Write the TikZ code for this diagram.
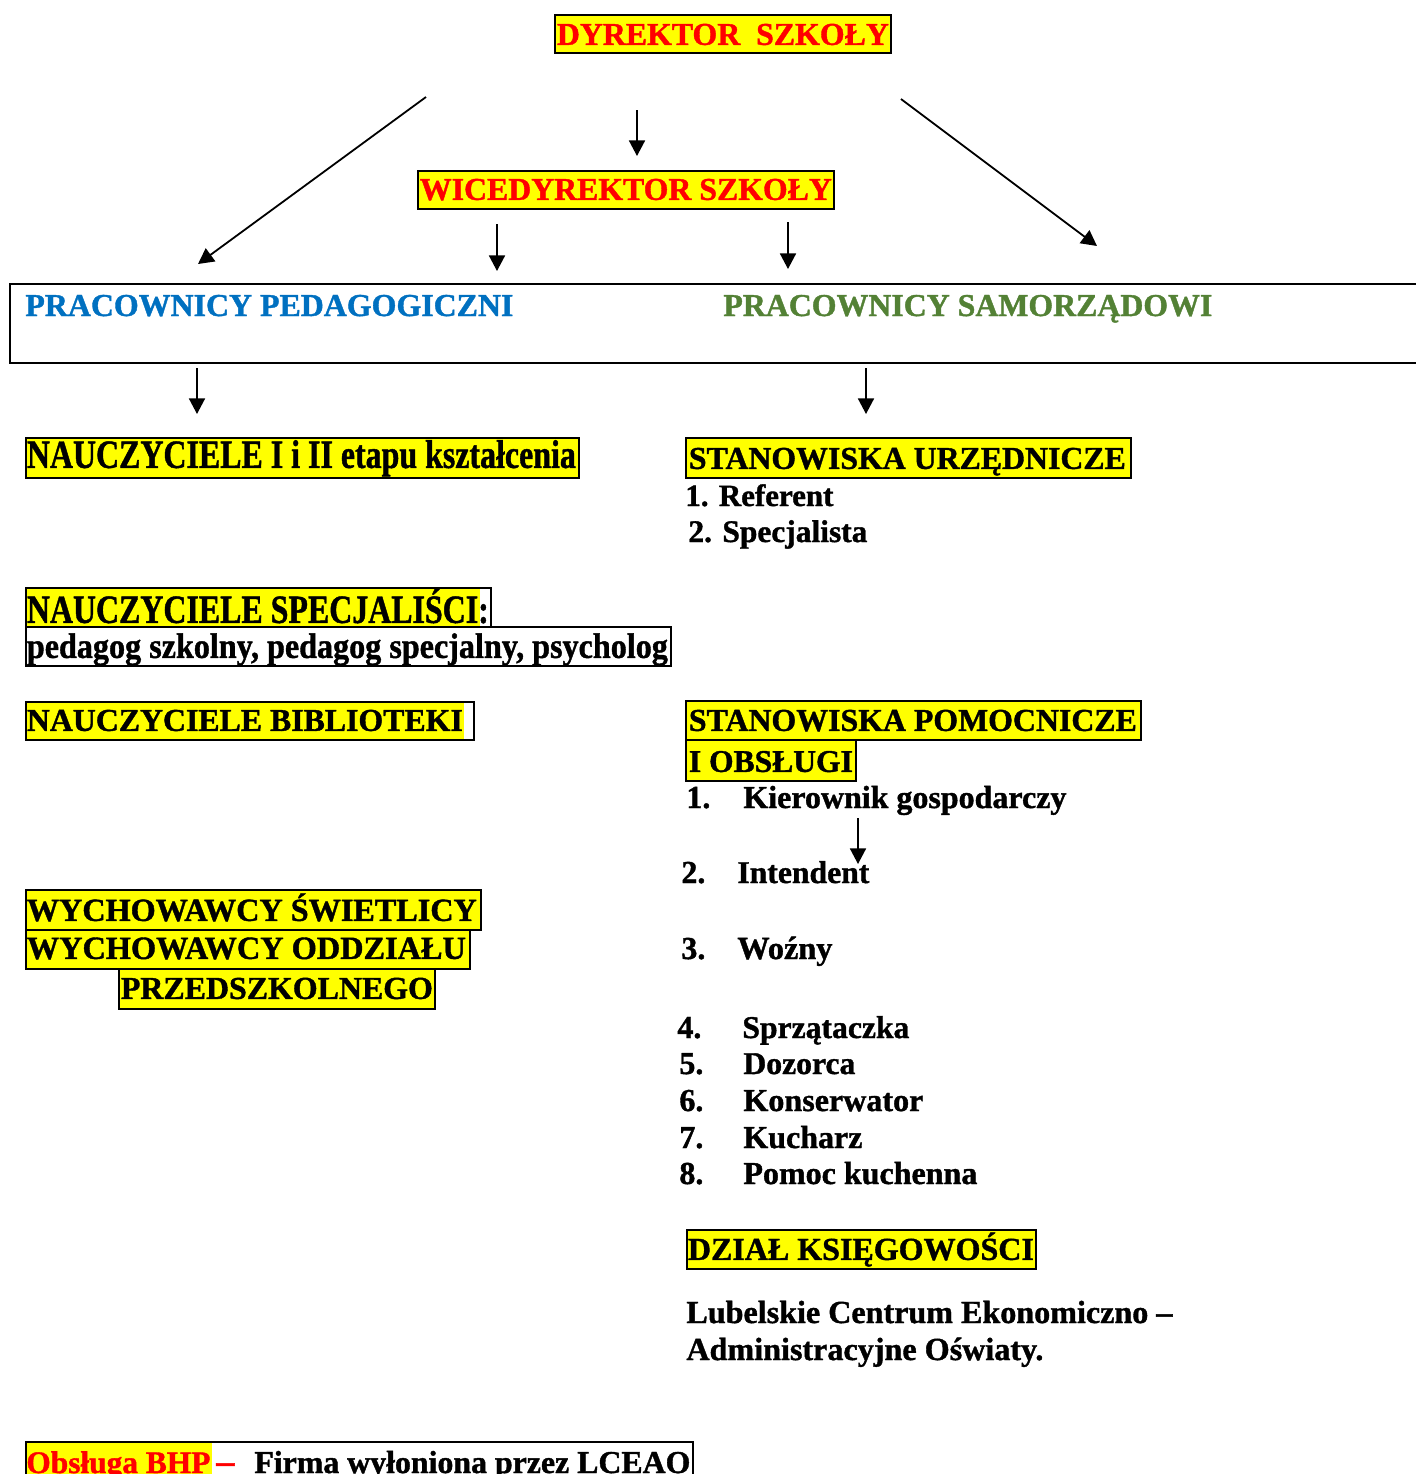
\documentclass[tikz,border=0pt]{standalone}
\usepackage{fontspec}
\setmainfont{Liberation Serif}[BoldFeatures={FakeBold=1.2}]
\usepackage{graphicx}
\usetikzlibrary{arrows.meta}
\newdimen\pxu \pxu=0.5pt
% condensed text: fixed font size, forced width
\newcommand\TX[3]{\fontsize{#1}{#1}\selectfont\resizebox{#2\pxu}{\height}{#3}}
% natural text: uniform scaling to the given width
\newcommand\TU[2]{\fontsize{16}{16}\selectfont\resizebox{#1\pxu}{!}{#2}}
\newcommand\FS[2]{\fontsize{#1}{#1}\selectfont #2}
\newcommand\BX[5]{\makebox[#1\pxu][l]{\hspace*{#2\pxu}\TX{#3}{#4}{#5}}}
\newcommand\BU[4]{\makebox[#1\pxu][l]{\hspace*{#2\pxu}\TU{#3}{#4}}}
\definecolor{hl}{HTML}{FFFF00}
\definecolor{tred}{HTML}{FF0000}
\definecolor{tblue}{HTML}{0070C0}
\definecolor{tgreen}{HTML}{538135}
\begin{document}
\begin{tikzpicture}[x=0.5pt,y=-0.5pt, font=\bfseries,
  bx/.style={draw, line width=0.9pt, anchor=north west, inner sep=0pt},
  txt/.style={anchor=base west, inner sep=0pt},
  arr/.style={line width=0.9pt, -{Triangle[length=7.8pt,width=8pt]}}]
\useasboundingbox (0,0) rectangle (1416,1474);

% top
\node[bx, fill=hl, text height=30\pxu, text depth=8\pxu] (dyr) at (554,14) {\BU{336}{2}{332}{\color{tred}DYREKTOR\ \ SZKOŁY}};
\node[bx, fill=hl, text height=29\pxu, text depth=9\pxu] (wice) at (417,170) {\BU{416}{2}{412}{\color{tred}WICEDYREKTOR SZKOŁY}};

% big box
\node[bx, minimum width=1416\pxu, minimum height=79\pxu] (prac) at (9,283) {};
\node[txt] (ped) at (25,316) {\TU{488}{\color{tblue}PRACOWNICY PEDAGOGICZNI}};
\node[txt] (sam) at (723,316) {\TU{489}{\color{tgreen}PRACOWNICY SAMORZĄDOWI}};

% arrows
\coordinate (a1s) at (426,97);  \coordinate (a1e) at (198,264);
\coordinate (a2s) at (637,110); \coordinate (a2e) at (637,156);
\coordinate (a3s) at (901,99);  \coordinate (a3e) at (1097,246);
\coordinate (a4s) at (497,224); \coordinate (a4e) at (497,271);
\coordinate (a5s) at (788,222); \coordinate (a5e) at (788,269);
\coordinate (a6s) at (197,368); \coordinate (a6e) at (197,414);
\coordinate (a7s) at (866,368); \coordinate (a7e) at (866,414);
\coordinate (a8s) at (858,818); \coordinate (a8e) at (858,864);
\foreach \i in {1,...,8} {\draw[arr] (a\i s) -- (a\i e);}

% left column
\node[bx, fill=hl, text height=30\pxu, text depth=10\pxu] (n12) at (25,437) {\BX{553}{1}{20}{549}{NAUCZYCIELE I i II etapu kształcenia}};
\fill[hl] (25,587) rectangle (480,626);
\node[bx, text height=35\pxu, text depth=4\pxu] (spec) at (25,587) {\BX{465}{1}{20}{462}{NAUCZYCIELE SPECJALIŚCI:}};
\node[bx, fill=white, text height=31\pxu, text depth=8\pxu] (psy) at (25,626) {\BX{645}{1}{17.7}{641}{pedagog szkolny, pedagog specjalny, psycholog}};
\fill[hl] (25,701) rectangle (464,739);
\node[bx, text height=29\pxu, text depth=9\pxu] (bib) at (25,701) {\BU{448}{1}{436}{NAUCZYCIELE BIBLIOTEKI}};
\node[bx, fill=hl, text height=31\pxu, text depth=9\pxu] (w1) at (25,889) {\BU{455}{1}{450}{WYCHOWAWCY ŚWIETLICY}};
\node[bx, fill=hl, text height=29\pxu, text depth=10\pxu] (w2) at (25,929) {\BU{444}{1}{439}{WYCHOWAWCY ODDZIAŁU}};
\node[bx, fill=hl, text height=30\pxu, text depth=10\pxu] (w3) at (118,968) {\BU{316}{2}{312}{PRZEDSZKOLNEGO}};

% right column
\node[bx, fill=hl, text height=31\pxu, text depth=9\pxu] (su) at (685,437) {\BU{445}{3}{437}{STANOWISKA URZĘDNICZE}};
\node[txt] (ref) at (685,506) {\TU{148}{1. Referent}};
\node[txt] (spc) at (688,542) {\TU{179}{2. Specjalista}};

\node[bx, fill=hl, text height=30\pxu, text depth=9\pxu] (pom) at (685,700) {\BU{455}{3}{448}{STANOWISKA POMOCNICZE}};
\node[bx, fill=hl, text height=32\pxu, text depth=9\pxu] (obs) at (685,739) {\BU{170}{3}{164}{I OBSŁUGI}};

\node[txt] (n1) at (686,808) {\FS{16}{1.}};
\node[txt] (kier) at (743,808) {\TU{323}{Kierownik gospodarczy}};
\node[txt] (n2) at (681,883) {\FS{16}{2.}};
\node[txt] (int) at (737,883) {\TU{132}{Intendent}};
\node[txt] (n3) at (681,959) {\FS{16}{3.}};
\node[txt] (woz) at (737,959) {\TU{95}{Woźny}};
\node[txt] (n4) at (677,1038) {\FS{16}{4.}};
\node[txt] (sprz) at (742,1038) {\TU{167}{Sprzątaczka}};
\node[txt] (n5) at (679,1074) {\FS{16}{5.}};
\node[txt] (doz) at (743,1074) {\TU{112}{Dozorca}};
\node[txt] (n6) at (679,1111) {\FS{16}{6.}};
\node[txt] (kons) at (743,1111) {\TU{180}{Konserwator}};
\node[txt] (n7) at (679,1148) {\FS{16}{7.}};
\node[txt] (kuch) at (743,1148) {\TU{119}{Kucharz}};
\node[txt] (n8) at (679,1184) {\FS{16}{8.}};
\node[txt] (pomk) at (743,1184) {\TU{234}{Pomoc kuchenna}};

\node[bx, fill=hl, text height=30\pxu, text depth=9\pxu] (dzial) at (686,1229) {\BU{349}{1}{346}{DZIAŁ KSIĘGOWOŚCI}};
\node[txt] (lub) at (686,1323) {\TU{486}{Lubelskie Centrum Ekonomiczno –}};
\node[txt] (adm) at (686,1360) {\TU{357}{Administracyjne Oświaty.}};

% bottom
\fill[hl] (25,1441) rectangle (212,1500);
\node[bx, minimum width=667\pxu, minimum height=60\pxu] (bhp) at (25,1441) {};
\node[txt] (bhp1) at (26,1473) {\TU{184}{\color{tred}Obsługa BHP}};
\node[txt] (bhp2) at (216,1473) {\TU{18}{\color{tred}–}};
\node[txt] (bhp3) at (254,1473) {\TU{436}{Firma wyłoniona przez LCEAO}};
\end{tikzpicture}
\end{document}
